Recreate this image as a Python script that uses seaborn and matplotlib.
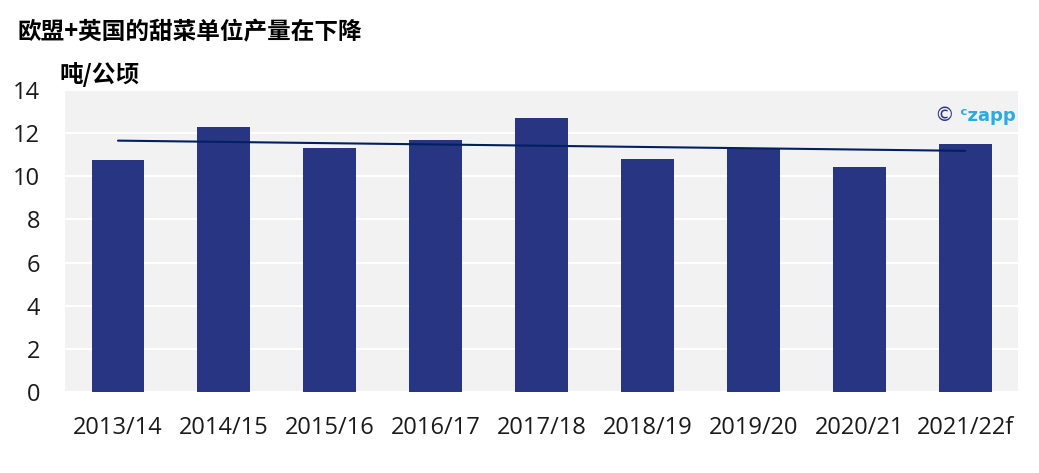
import matplotlib
matplotlib.use("Agg")
import matplotlib.pyplot as plt
import seaborn as sns
import numpy as np
import pandas as pd

categories = ["2013/14", "2014/15", "2015/16", "2016/17", "2017/18",
              "2018/19", "2019/20", "2020/21", "2021/22f"]
yields = [10.75, 12.3, 11.3, 11.7, 12.7, 10.8, 11.25, 10.45, 11.5]
yticks = [0, 2, 4, 6, 8, 10, 12, 14]

sns.set_theme(style="white")
plt.rcParams['font.family'] = ['Noto Sans CJK SC', 'DejaVu Sans']

df = pd.DataFrame({"season": categories, "yield": yields, "idx": np.arange(len(categories))})

fig = plt.figure(figsize=(10.39, 4.73), dpi=100)
ax = fig.add_axes([0.0626, 0.1712, 0.9174, 0.6385])
ax.set_facecolor("#F2F2F2")

sns.barplot(data=df, x="season", y="yield", color="#283583", width=0.5,
            saturation=1, linewidth=0, ax=ax, zorder=3)
sns.regplot(data=df, x="idx", y="yield", scatter=False, ci=None, truncate=True,
            line_kws={"color": "#002060", "lw": 1.5, "zorder": 4}, ax=ax)

ax.set_ylim(0, 14)
ax.set_xlim(-0.5, len(categories) - 0.5)
ax.set_yticks(yticks)
ax.yaxis.grid(True, color="white", lw=1.5, zorder=1)
ax.set_axisbelow(True)
for s in ax.spines.values():
    s.set_visible(False)
ax.set_xlabel("")
ax.set_ylabel("")
ax.tick_params(axis="both", length=0, labelsize=17, colors="#1a1a1a")
ax.tick_params(axis="x", pad=17)
ax.tick_params(axis="y", pad=18)
for lab in ax.get_xticklabels() + ax.get_yticklabels():
    lab.set_family(['Open Sans', 'DejaVu Sans'])

fig.text(0.017, 0.932, "欧盟+英国的甜菜单位产量在下降", fontsize=17, fontweight="bold",
         ha="left", va="center", color="black")
fig.text(0.057, 0.842, "吨/公顷", fontsize=17, fontweight="bold",
         ha="left", va="center", color="black")

ax.text(0.933, 0.915, "©", transform=ax.transAxes, fontsize=14, color="#283583",
        ha="right", va="center", family=['DejaVu Sans'])
ax.text(0.997, 0.915, "ᶜzapp", transform=ax.transAxes, fontsize=13, color="#29ABE2",
        ha="right", va="center", fontweight="bold", family=['DejaVu Sans'])

fig.savefig("out.png", dpi=100)
